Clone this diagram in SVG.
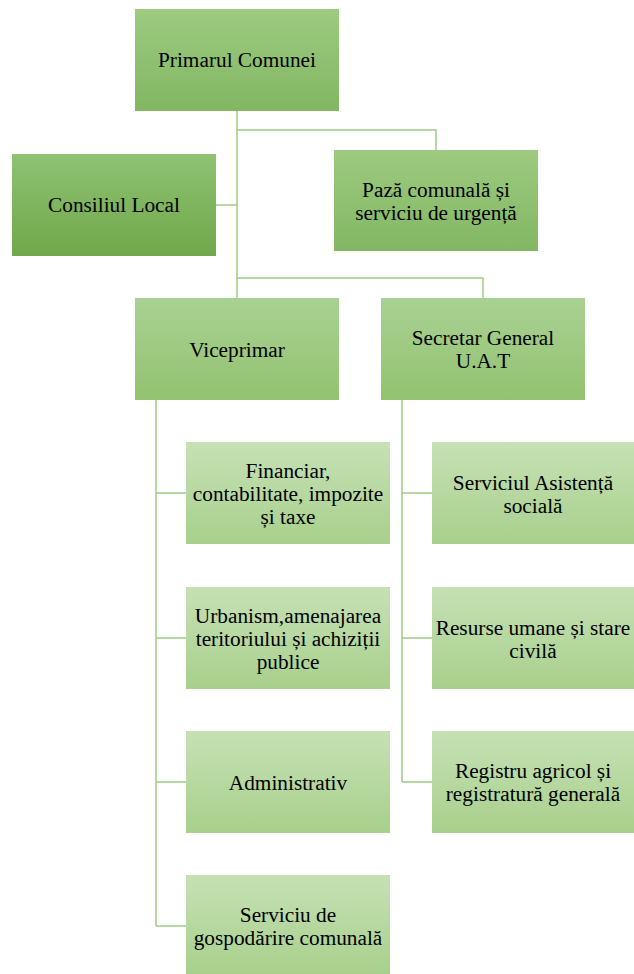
<svg xmlns="http://www.w3.org/2000/svg" width="634" height="974" viewBox="0 0 634 974">
<defs>
<linearGradient id="g1" x1="0" y1="0" x2="0" y2="1"><stop offset="0" stop-color="#9dca80"/><stop offset="1" stop-color="#82b762"/></linearGradient>
<linearGradient id="g0" x1="0" y1="0" x2="0" y2="1"><stop offset="0" stop-color="#8ec272"/><stop offset="1" stop-color="#70a84a"/></linearGradient>
<linearGradient id="g2" x1="0" y1="0" x2="0" y2="1"><stop offset="0" stop-color="#a9d193"/><stop offset="1" stop-color="#93c270"/></linearGradient>
<linearGradient id="g3" x1="0" y1="0" x2="0" y2="1"><stop offset="0" stop-color="#c6e1b5"/><stop offset="1" stop-color="#a8d08c"/></linearGradient>
</defs>
<style>
.t{font-family:'Liberation Serif','Times New Roman',serif;font-size:21.3px;fill:#000;text-anchor:middle}
.c{fill:none;stroke:#9fcc86;stroke-width:1.5}
</style>
<g id="connectors">
<path class="c" d="M237 111V298M237 130H436V150M216 205H237M237 278H483V298"/>
<path class="c" d="M156 400V926M156 493H186M156 638H186M156 782H186M156 926H186"/>
<path class="c" d="M402 400V782M402 493H432M402 638H432M402 782H432"/>
</g>
<g id="primar"><rect x="135" y="9" width="204" height="102" fill="url(#g1)"/><text class="t" x="237" y="67">Primarul Comunei</text></g>
<g id="consiliu"><rect x="12" y="154" width="204" height="102" fill="url(#g0)"/><text class="t" x="114" y="212">Consiliul Local</text></g>
<g id="paza"><rect x="334" y="150" width="204" height="101" fill="url(#g1)"/><text class="t" x="436" y="197">Pază comunală și</text><text class="t" x="436" y="220">serviciu de urgență</text></g>
<g id="viceprimar"><rect x="135" y="298" width="204" height="102" fill="url(#g2)"/><text class="t" x="237" y="357">Viceprimar</text></g>
<g id="secretar"><rect x="381" y="298" width="204" height="102" fill="url(#g2)"/><text class="t" x="483" y="345">Secretar General</text><text class="t" x="483" y="368">U.A.T</text></g>
<g id="financiar"><rect x="186" y="442" width="204" height="102" fill="url(#g3)"/><text class="t" x="288" y="478">Financiar,</text><text class="t" x="288" y="501">contabilitate, impozite</text><text class="t" x="288" y="524">și taxe</text></g>
<g id="urbanism"><rect x="186" y="587" width="204" height="102" fill="url(#g3)"/><text class="t" x="288" y="623">Urbanism,amenajarea</text><text class="t" x="288" y="646">teritoriului și achiziții</text><text class="t" x="288" y="669">publice</text></g>
<g id="administrativ"><rect x="186" y="731" width="204" height="102" fill="url(#g3)"/><text class="t" x="288" y="790">Administrativ</text></g>
<g id="gospodarire"><rect x="186" y="875" width="204" height="99" fill="url(#g3)"/><text class="t" x="288" y="922">Serviciu de</text><text class="t" x="288" y="945">gospodărire comunală</text></g>
<g id="asistenta"><rect x="432" y="442" width="202" height="102" fill="url(#g3)"/><text class="t" x="533" y="490">Serviciul Asistență</text><text class="t" x="533" y="513">socială</text></g>
<g id="resurse"><rect x="432" y="587" width="202" height="102" fill="url(#g3)"/><text class="t" x="533" y="635">Resurse umane și stare</text><text class="t" x="533" y="658">civilă</text></g>
<g id="registru"><rect x="432" y="731" width="202" height="102" fill="url(#g3)"/><text class="t" x="533" y="778">Registru agricol și</text><text class="t" x="533" y="801">registratură generală</text></g>
</svg>
